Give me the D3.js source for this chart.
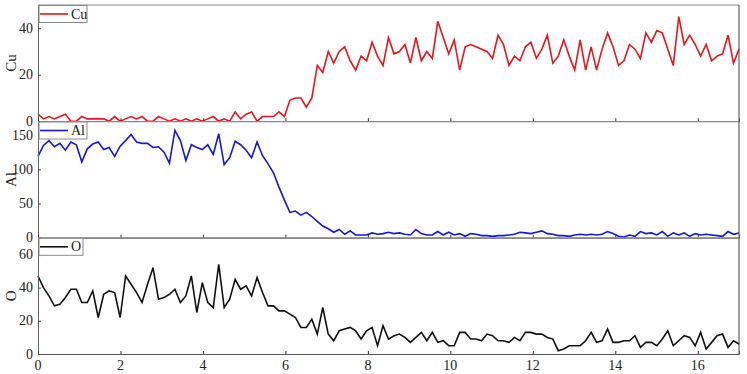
<!DOCTYPE html>
<html>
<head>
<meta charset="utf-8">
<script src="https://cdn.jsdelivr.net/npm/d3@7"></script>
<style>
  body { margin: 0; background: #fff; }
  text { font-family: "Liberation Serif", "DejaVu Serif", serif; }
</style>
</head>
<body>
<div id="chart"></div>
<script>
// sampled along x from 0 to 17, 129 points
var xMax = 17;
var cuValues = [3,1,2,1,2,3,0,0,2,1, 1,1,1,0,2,0,1,2,1,2, 0,0,2,1,0,1,0,1,0,1,
  0,1,2,0,1,0,4,1,3,4, 0,2,2,2,4,2,9,10,10,6, 10,24,21,30,25,30,32,26,22,28,
  26,34,28,24,36,29,30,33,25,36, 26,30,27,43,36,29,35,22,32,33, 32,31,30,27,37,33,24,28,26,32,
  34,27,31,37,25,28,35,28,22,35, 22,32,22,31,38,32,24,26,33,31, 27,38,34,39,38,31,24,45,33,37,
  33,28,33,26,28,29,37,25,31];
var alValues = [119,135,142,133,138,128,140,136,111,130, 137,140,129,132,119,134,142,151,140,138,
  138,132,133,125,109,157,142,113,136,132, 129,136,122,152,107,117,141,136,128,117,
  140,120,108,95,74,55,37,39,33,37, 31,24,17,13,8,12,5,10,4,4,
  4,7,5,6,8,6,7,5,4,12, 6,4,4,9,4,8,4,6,2,6, 5,3,3,2,3,3,4,5,8,7,
  6,8,10,6,5,3,3,2,4,5, 4,5,4,5,9,6,2,1,4,2, 9,6,7,4,9,2,7,4,7,2,
  6,4,5,4,3,2,9,5,7];
var oValues = [47,40,35,29,30,34,39,39,31,31, 38,22,36,38,37,22,47,42,37,31,
  42,52,33,34,36,39,31,35,47,25, 43,31,28,54,28,33,45,39,41,35,
  46,37,29,29,26,26,24,22,16,16, 21,12,28,12,8,14,15,16,14,9,
  14,16,5,17,9,11,12,10,7,10, 13,8,13,7,8,5,5,13,13,9, 9,8,12,11,8,8,7,10,8,13,
  13,12,12,10,9,2,3,5,5,5, 8,13,7,8,15,7,7,8,8,11, 4,7,7,5,9,14,5,8,11,10,
  5,13,3,7,11,12,4,8,6];

var seriesNames = ["Cu", "Al", "O"];
var seriesColors = ["#e8141e", "#1717d9", "#111111"];
var yMaxes = [50, 170, 70];
var yTickValues = [[0, 20, 40], [0, 50, 100, 150], [0, 20, 40, 60]];
var xTickValues = [0, 2, 4, 6, 8, 10, 12, 14, 16];
var allValues = [cuValues, alValues, oValues];

var width = 747, height = 374;
var left = 38, right = 739;
var panelTops = [5, 121.5, 237.8], panelH = 116.2;

var svg = d3.select("#chart").append("svg")
  .attr("width", width).attr("height", height);

var x = d3.scaleLinear().domain([0, xMax]).range([left, right]);

seriesNames.forEach(function(name, k) {
  var top = panelTops[k], bottom = top + panelH;
  var y = d3.scaleLinear().domain([0, yMaxes[k]]).range([bottom, top]);
  var vals = allValues[k];
  var step = xMax / (vals.length - 1);
  var g = svg.append("g");

  // frame: top and right
  g.append("line").attr("x1", left).attr("x2", right).attr("y1", top).attr("y2", top)
    .attr("stroke", "#8a8a8a").attr("stroke-width", 1);
  g.append("line").attr("x1", right).attr("x2", right).attr("y1", top).attr("y2", bottom)
    .attr("stroke", "#444").attr("stroke-width", 1);

  var line = d3.line()
    .x(function(d, i) { return x(i * step); })
    .y(function(d) { return y(d); });
  g.append("path").datum(vals)
    .attr("d", line)
    .attr("fill", "none")
    .attr("stroke", seriesColors[k])
    .attr("stroke-width", 1.6)
    .attr("stroke-linejoin", "miter");

  // y axis, inward ticks
  var yAxis = g.append("g").attr("transform", "translate(" + left + ",0)")
    .call(d3.axisRight(y).tickValues(yTickValues[k]).tickSize(3).tickFormat(""));
  yAxis.select(".domain").attr("stroke", "#666");
  yAxis.selectAll(".tick line").attr("stroke", "#444");
  g.selectAll(".ylab").data(yTickValues[k]).enter().append("text")
    .attr("x", left - 5).attr("y", function(d) { return y(d) + 4.5; })
    .attr("text-anchor", "end").attr("font-size", 14).attr("fill", "#222")
    .text(function(d) { return d; });

  // x axis, inward ticks
  var xAxis = g.append("g").attr("transform", "translate(0," + bottom + ")")
    .call(d3.axisTop(x).tickValues(xTickValues).tickSize(3).tickFormat(""));
  xAxis.select(".domain").attr("stroke", "#555");
  xAxis.selectAll(".tick line").attr("stroke", "#333");
  if (k == 2) {
    g.selectAll(".xlab").data(xTickValues).enter().append("text")
      .attr("x", function(d) { return x(d); }).attr("y", bottom + 16)
      .attr("text-anchor", "middle").attr("font-size", 14).attr("fill", "#222")
      .text(function(d) { return d; });
  }

  // axis title
  g.append("text")
    .attr("transform", "translate(15.5," + (top + panelH / 2) + ") rotate(-90)")
    .attr("text-anchor", "middle").attr("font-size", 15).attr("fill", "#222")
    .text(name);

  // legend box
  var lw = name == "O" ? 44 : 48;
  g.append("rect").attr("x", left + 1).attr("y", top + 0.5).attr("width", lw).attr("height", 17)
    .attr("fill", "#fff").attr("stroke", "#8a8a8a").attr("stroke-width", 1);
  g.append("line").attr("x1", left + 2).attr("x2", left + 30)
    .attr("y1", top + 9).attr("y2", top + 9)
    .attr("stroke", seriesColors[k]).attr("stroke-width", 1.6);
  g.append("text").attr("x", left + 33).attr("y", top + 13.5)
    .attr("font-size", 14).attr("fill", "#222").text(name);
});
</script>
</body>
</html>
